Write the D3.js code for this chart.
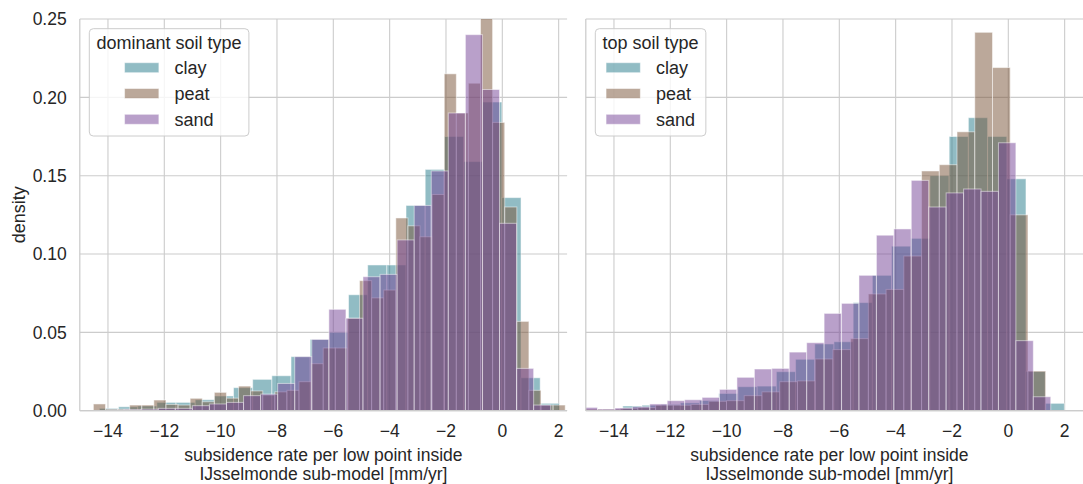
<!DOCTYPE html>
<html>
<head>
<meta charset="utf-8">
<script src="https://cdnjs.cloudflare.com/ajax/libs/d3/7.8.5/d3.min.js"></script>
<style>
body { margin: 0; background: #fff; }
text { font-family: "Liberation Sans", Arial, sans-serif; fill: #262626; }
</style>
</head>
<body>
<div id="chart"></div>
<script>
// legend order, drawing order is the same (sand ends up on top)
var soilTypes = ["clay", "peat", "sand"];
var soilColors = ["#237989", "#775135", "#734195"];

// densities per bin, dominant soil type (left panel)
var dominantClay = [0.0015, 0.0025, 0.003, 0.0053, 0.0053, 0.007, 0.0094, 0.0147, 0.020, 0.0223,
    0.0345, 0.0455, 0.050, 0.074, 0.093, 0.093, 0.131, 0.154, 0.175, 0.159, 0.197, 0.136, 0.021, 0.0047];
var dominantPeat = [0.0043, 0.001, 0.001, 0.0036, 0.0036, 0.0068, 0.004, 0.0036, 0.0079, 0.0057,
    0.0117, 0.008, 0.0157, 0.0126, 0.010, 0.012, 0.013, 0.0185, 0.030, 0.040, 0.040, 0.059, 0.083,
    0.072, 0.077, 0.123, 0.118, 0.111, 0.138, 0.215, 0.190, 0.209, 0.255, 0.184, 0.130, 0.057, 0.013,
    0.0036, 0.0036];
var dominantSand = [0.0005, 0.0008, 0.001, 0.0015, 0.0015, 0.0032, 0.0043, 0.0053, 0.0096, 0.0106,
    0.0174, 0.0345, 0.0455, 0.0647, 0.059, 0.0855, 0.087, 0.109, 0.131, 0.153, 0.190, 0.240, 0.205,
    0.1196, 0.027, 0.0036];
// bin edges (mm/yr): first edge and bin width, order clay, peat, sand
var dominantBinStart = [-14.305, -14.518, -14.033];
var dominantBinWidth = [0.6804, 0.4295, 0.6058];

// densities per bin, top soil type (right panel)
var topClay = [0.0005, 0.0008, 0.003, 0.0035, 0.004, 0.005, 0.0065, 0.011, 0.0153, 0.0157, 0.0249,
    0.0328, 0.0426, 0.044, 0.069, 0.0864, 0.105, 0.110, 0.150, 0.175, 0.187, 0.175, 0.148, 0.025, 0.0047];
var topPeat = [0.001, 0.001, 0.0015, 0.002, 0.0035, 0.0035, 0.004, 0.006, 0.0064, 0.0096, 0.012,
    0.0185, 0.019, 0.033, 0.039, 0.046, 0.0745, 0.0774, 0.0987, 0.153, 0.157, 0.178, 0.2415, 0.219,
    0.125, 0.0253];
var topSand = [0.0021, 0.001, 0.0017, 0.0025, 0.0043, 0.0064, 0.007, 0.0085, 0.0136, 0.0213, 0.0266,
    0.027, 0.0374, 0.0434, 0.0621, 0.0685, 0.0864, 0.112, 0.116, 0.147, 0.130, 0.139, 0.1415, 0.140,
    0.171, 0.0447, 0.0089];
var topBinStart = [-15.05, -15.04, -15.204];
var topBinWidth = [0.6816, 0.6295, 0.6189];

var xTicks = [-14, -12, -10, -8, -6, -4, -2, 0, 2];
var yTicks = [0, 0.05, 0.10, 0.15, 0.20, 0.25];
var legendTitles = ["dominant soil type", "top soil type"];
var xLabelLines = ["subsidence rate per low point inside", "IJsselmonde sub-model [mm/yr]"];

var svgWidth = 1083, svgHeight = 484;
var svg = d3.select("#chart").append("svg")
    .attr("width", svgWidth)
    .attr("height", svgHeight)
    .style("background", "#fff");

var yScale = d3.scaleLinear().domain([0, 0.25]).range([410.7, 19]);
var fmtY = d3.format(".2f");
var fmtX = function(d) { return d < 0 ? "\u2212" + Math.abs(d) : "" + d; };

var panels = [
    { left: 79.8, right: 567.1, xmax: 2.3, series: [dominantClay, dominantPeat, dominantSand],
      starts: dominantBinStart, widths: dominantBinWidth, title: legendTitles[0], yLabels: true },
    { left: 585.8, right: 1083.8, xmax: 2.68, series: [topClay, topPeat, topSand],
      starts: topBinStart, widths: topBinWidth, title: legendTitles[1], yLabels: false }
];

panels.forEach(function(p, pi) {
    var x = d3.scaleLinear().domain([-15, p.xmax]).range([p.left, p.right]);
    var g = svg.append("g");

    // grid first, bars are see-through
    g.selectAll(".vgrid").data(xTicks).enter().append("line")
        .attr("x1", d => x(d)).attr("x2", d => x(d))
        .attr("y1", yScale(0)).attr("y2", yScale(0.25))
        .attr("stroke", "#cccccc").attr("stroke-width", 1.1);
    g.selectAll(".hgrid").data(yTicks).enter().append("line")
        .attr("x1", p.left).attr("x2", p.right)
        .attr("y1", d => yScale(d)).attr("y2", d => yScale(d))
        .attr("stroke", "#cccccc").attr("stroke-width", 1.1);

    var clipId = "clip" + pi;
    svg.append("clipPath").attr("id", clipId).append("rect")
        .attr("x", p.left).attr("y", yScale(0.25))
        .attr("width", p.right - p.left).attr("height", yScale(0) - yScale(0.25));

    var bars = g.append("g").attr("clip-path", "url(#" + clipId + ")");
    p.series.forEach(function(vals, si) {
        var bins = vals.map(function(v, i) {
            return { x0: p.starts[si] + i * p.widths[si], x1: p.starts[si] + (i + 1) * p.widths[si], v: v };
        });
        bars.selectAll(".bar" + si).data(bins).enter().append("rect")
            .attr("x", d => x(d.x0))
            .attr("width", d => x(d.x1) - x(d.x0))
            .attr("y", d => yScale(d.v))
            .attr("height", d => yScale(0) - yScale(d.v))
            .attr("fill", soilColors[si])
            .attr("fill-opacity", 0.5)
            .attr("stroke", "#fff")
            .attr("stroke-opacity", 0.5)
            .attr("stroke-width", 1);
    });

    // spines: left and bottom
    g.append("line").attr("x1", p.left).attr("x2", p.left)
        .attr("y1", yScale(0)).attr("y2", yScale(0.25))
        .attr("stroke", "#cccccc").attr("stroke-width", 1.25);
    g.append("line").attr("x1", p.left).attr("x2", p.right)
        .attr("y1", yScale(0)).attr("y2", yScale(0))
        .attr("stroke", "#cccccc").attr("stroke-width", 1.25);

    // tick labels
    g.selectAll(".xt").data(xTicks).enter().append("text")
        .attr("x", d => x(d)).attr("y", 437)
        .attr("text-anchor", "middle")
        .style("font-size", "17.5px")
        .text(fmtX);
    if (p.yLabels) {
        g.selectAll(".yt").data(yTicks).enter().append("text")
            .attr("x", 66.7).attr("y", d => yScale(d) + 6.3)
            .attr("text-anchor", "end")
            .style("font-size", "17.5px")
            .text(fmtY);
    }

    // axis label, two lines
    var cx = (p.left + Math.min(p.right, p.left + 487.3)) / 2;
    xLabelLines.forEach(function(t, li) {
        g.append("text").attr("x", cx).attr("y", 460.5 + li * 19.7)
            .attr("text-anchor", "middle")
            .style("font-size", "17.5px")
            .text(t);
    });

    // legend
    var lg = g.append("g");
    var box = lg.append("rect").attr("rx", 4).attr("ry", 4)
        .attr("fill", "#fff").attr("fill-opacity", 0.8)
        .attr("stroke", "#cccccc").attr("stroke-width", 1);
    var title = lg.append("text").attr("y", 49.3)
        .attr("text-anchor", "middle")
        .style("font-size", "18px")
        .text(p.title);
    var labels = soilTypes.map(function(s, i) {
        return lg.append("text").attr("y", 74 + i * 25.8)
            .style("font-size", "18px").text(s);
    });
    var maxLab = d3.max(labels, l => l.node().getComputedTextLength());
    var entriesW = 34.3 + 15.7 + maxLab;
    var boxW = Math.max(title.node().getComputedTextLength(), entriesW) + 14.5;
    var bx = p.left + 9.5;
    box.attr("x", bx).attr("y", 28.7).attr("width", boxW).attr("height", 107.3);
    title.attr("x", bx + boxW / 2);
    var ex = bx + (boxW - entriesW) / 2;
    soilTypes.forEach(function(s, i) {
        lg.append("rect").attr("x", ex).attr("y", 62.7 + i * 25.8)
            .attr("width", 34.3).attr("height", 10)
            .attr("fill", soilColors[i]).attr("fill-opacity", 0.5)
            .attr("stroke", "#fff").attr("stroke-opacity", 0.5);
        labels[i].attr("x", ex + 50);
    });
});

svg.append("text")
    .attr("transform", "translate(25," + ((yScale(0) + yScale(0.25)) / 2) + ") rotate(-90)")
    .attr("text-anchor", "middle")
    .style("font-size", "18px")
    .text("density");
</script>
</body>
</html>
